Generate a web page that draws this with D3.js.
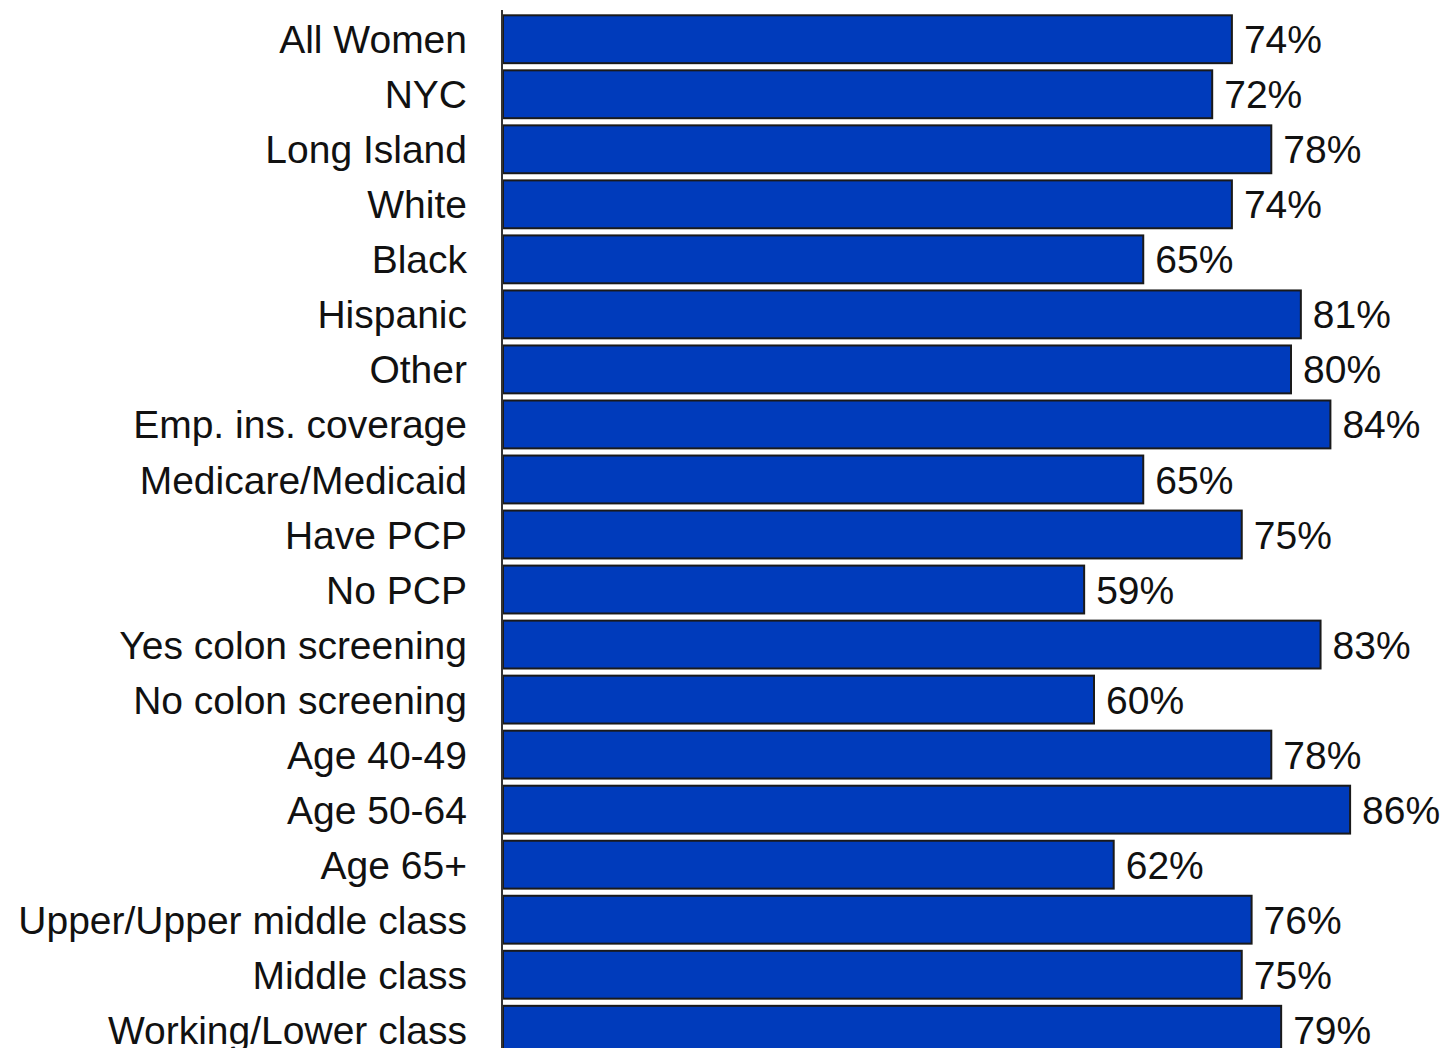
<!DOCTYPE html>
<html>
<head>
<meta charset="utf-8">
<script src="https://cdn.jsdelivr.net/npm/d3@7"></script>
<style>
  body { margin: 0; background: #fff; }
  text { font-family: "Liberation Sans", Arial, sans-serif; fill: #111; }
</style>
</head>
<body>
<svg id="chart" width="1443" height="1048"></svg>
<script>
var categories = ["All Women", "NYC", "Long Island", "White", "Black", "Hispanic", "Other",
  "Emp. ins. coverage", "Medicare/Medicaid", "Have PCP", "No PCP", "Yes colon screening",
  "No colon screening", "Age 40-49", "Age 50-64", "Age 65+", "Upper/Upper middle class",
  "Middle class", "Working/Lower class"];
var values = [74, 72, 78, 74, 65, 81, 80, 84, 65, 75, 59, 83, 60, 78, 86, 62, 76, 75, 79];

var svg = d3.select("#chart");

// x: 0..100% , chart is cut off on the right side
var x = d3.scaleLinear().domain([0, 100]).range([503, 1488]);
var y = d3.scaleBand().domain(categories).range([12, 12 + 55 * categories.length]).paddingInner(0.13).paddingOuter(0.06);

svg.selectAll(".bar")
  .data(values)
  .enter().append("rect")
  .attr("class", "bar")
  .attr("x", x(0))
  .attr("y", function(d, i) { return y(categories[i]); })
  .attr("width", function(d) { return x(d) - x(0); })
  .attr("height", y.bandwidth())
  .attr("fill", "#003bbb")
  .attr("stroke", "#1a1a1a")
  .attr("stroke-width", 2);

svg.selectAll(".val")
  .data(values)
  .enter().append("text")
  .attr("class", "val")
  .attr("x", function(d) { return x(d) + 12; })
  .attr("y", function(d, i) { return y(categories[i]) + y.bandwidth() / 2; })
  .attr("dy", "0.36em")
  .attr("font-size", 39)
  .text(function(d) { return d + "%"; });

svg.selectAll(".lab")
  .data(categories)
  .enter().append("text")
  .attr("class", "lab")
  .attr("x", 467)
  .attr("y", function(d) { return y(d) + y.bandwidth() / 2; })
  .attr("dy", "0.36em")
  .attr("text-anchor", "end")
  .attr("font-size", 39)
  .text(function(d) { return d; });

// vertical axis line
svg.append("line")
  .attr("x1", x(0) - 1).attr("x2", x(0) - 1)
  .attr("y1", 10).attr("y2", 1048)
  .attr("stroke", "#333")
  .attr("stroke-width", 2);
</script>
</body>
</html>
